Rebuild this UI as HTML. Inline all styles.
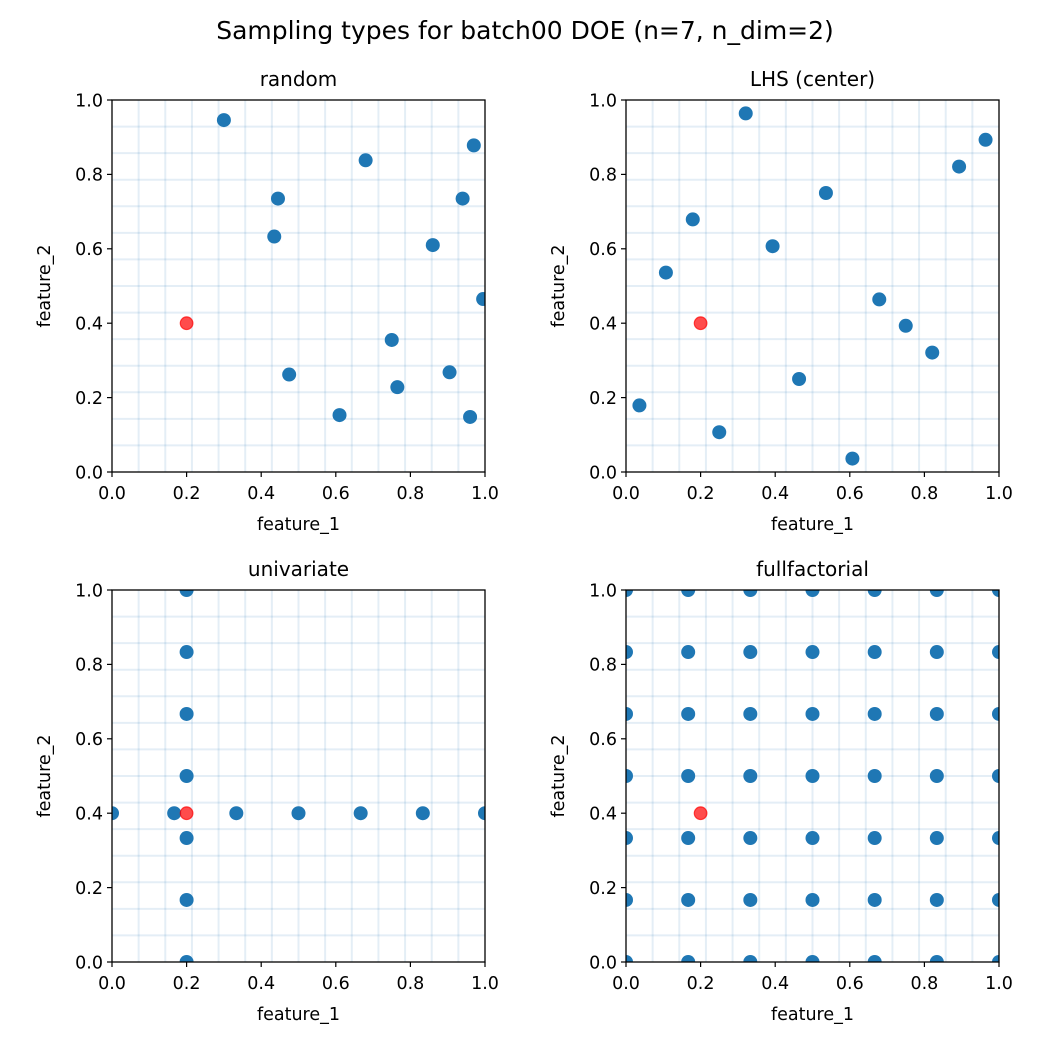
<!DOCTYPE html>
<html><head><meta charset="utf-8"><style>
html,body{margin:0;padding:0;background:#fff;}
svg{display:block;font-family:"DejaVu Sans","Liberation Sans",sans-serif;}
</style></head><body>
<svg id="fig" width="1050" height="1050" viewBox="0 0 1050 1050" xmlns="http://www.w3.org/2000/svg">
<rect width="1050" height="1050" fill="#fff"/>
<text x="525" y="39" text-anchor="middle" font-size="25">Sampling types for batch00 DOE (n=7, n_dim=2)</text>
</svg>
<script>
const panelTitles = ["random", "LHS (center)", "univariate", "fullfactorial"];
const tickLabels = ["0.0", "0.2", "0.4", "0.6", "0.8", "1.0"];
const tickValues = [0, 0.2, 0.4, 0.6, 0.8, 1.0];
const randomX = [0.30, 0.68, 0.97, 0.445, 0.94, 0.435, 0.86, 0.995, 0.75, 0.475, 0.905, 0.765, 0.61, 0.96];
const randomY = [0.946, 0.838, 0.878, 0.735, 0.735, 0.633, 0.61, 0.465, 0.355, 0.262, 0.268, 0.228, 0.153, 0.148];
const lhsX = [0.321, 0.964, 0.893, 0.536, 0.179, 0.393, 0.107, 0.679, 0.75, 0.821, 0.464, 0.036, 0.25, 0.607];
const lhsY = [0.964, 0.893, 0.821, 0.75, 0.679, 0.607, 0.536, 0.464, 0.393, 0.321, 0.25, 0.179, 0.107, 0.036];
const uniX = [0, 0.1667, 0.3333, 0.5, 0.6667, 0.8333, 1, 0.2, 0.2, 0.2, 0.2, 0.2, 0.2, 0.2];
const uniY = [0.4, 0.4, 0.4, 0.4, 0.4, 0.4, 0.4, 0, 0.1667, 0.3333, 0.5, 0.6667, 0.8333, 1];
const ffLevels = [0, 0.1667, 0.3333, 0.5, 0.6667, 0.8333, 1];
const refX = [0.2];
const refY = [0.4];

const ffX = [], ffY = [];
ffLevels.forEach(a => ffLevels.forEach(b => { ffX.push(a); ffY.push(b); }));
const seriesX = [randomX, lhsX, uniX, ffX];
const seriesY = [randomY, lhsY, uniY, ffY];

const NS = "http://www.w3.org/2000/svg";
const fig = document.getElementById("fig");
function mk(tag, attrs, parent) {
  const e = document.createElementNS(NS, tag);
  for (const k in attrs) e.setAttribute(k, attrs[k]);
  (parent || fig).appendChild(e);
  return e;
}
const lefts = [112, 626], tops = [100, 590], W = 373, H = 372;
let defs = mk("defs", {});
for (let p = 0; p < 4; p++) {
  const L = lefts[p % 2], T = tops[Math.floor(p / 2)];
  const sx = v => L + v * W, sy = v => T + H - v * H;
  const g = mk("g", {});
  
  
  const cp = mk("clipPath", { id: "c" + p }, defs);
  mk("rect", { x: L, y: T, width: W, height: H }, cp);
  const grid = mk("g", { stroke: "#1f77b4", "stroke-opacity": "0.12", "stroke-width": "2" }, g);
  
  
  for (let k = 1; k < 14; k++) {
    mk("line", { x1: sx(k / 14), x2: sx(k / 14), y1: T, y2: T + H }, grid);
    mk("line", { y1: sy(k / 14), y2: sy(k / 14), x1: L, x2: L + W }, grid);
  }
  const pts = mk("g", { "clip-path": "url(#c" + p + ")" }, g);
  
  
  seriesX[p].forEach((x, i) => {
    const c = mk("circle", { cx: sx(x), cy: sy(seriesY[p][i]), r: 7, fill: "#1f77b4" }, pts);
    
    
  });
  refX.forEach((x, i) => {
    const c = mk("circle", { cx: sx(x), cy: sy(refY[i]), r: 6.3, fill: "#ff0000", "fill-opacity": "0.7", stroke: "#ff0000", "stroke-opacity": "0.7", "stroke-width": "1.2" }, pts);
    
    
  });
  const frame = mk("rect", { x: L, y: T, width: W, height: H, fill: "none", stroke: "#000", "stroke-width": "1.3" }, g);
  
  
  tickValues.forEach((v, i) => {
    mk("line", { x1: sx(v), x2: sx(v), y1: T + H, y2: T + H + 5, stroke: "#000", "stroke-width": "1.2" }, g);
    const tx = mk("text", { x: sx(v), y: T + H + 27, "text-anchor": "middle", "font-size": "17.5" }, g);
    tx.textContent = tickLabels[i];
    
    
    mk("line", { x1: L - 5, x2: L, y1: sy(v), y2: sy(v), stroke: "#000", "stroke-width": "1.2" }, g);
    const ty = mk("text", { x: L - 9, y: sy(v) + 6.3, "text-anchor": "end", "font-size": "17.5" }, g);
    ty.textContent = tickLabels[i];
    
    
  });
  const xl = mk("text", { x: L + W / 2, y: T + H + 58, "text-anchor": "middle", "font-size": "17.5" }, g);
  xl.textContent = "feature_1";
  
  
  const yl = mk("text", { x: 0, y: 0, "text-anchor": "middle", "font-size": "17.5", transform: "translate(" + (L - 62) + "," + (T + H / 2) + ") rotate(-90)" }, g);
  yl.textContent = "feature_2";
  
  
  const tt = mk("text", { x: L + W / 2, y: T - 14, "text-anchor": "middle", "font-size": "20" }, g);
  tt.textContent = panelTitles[p];
  
  
}
</script>
</body></html>
